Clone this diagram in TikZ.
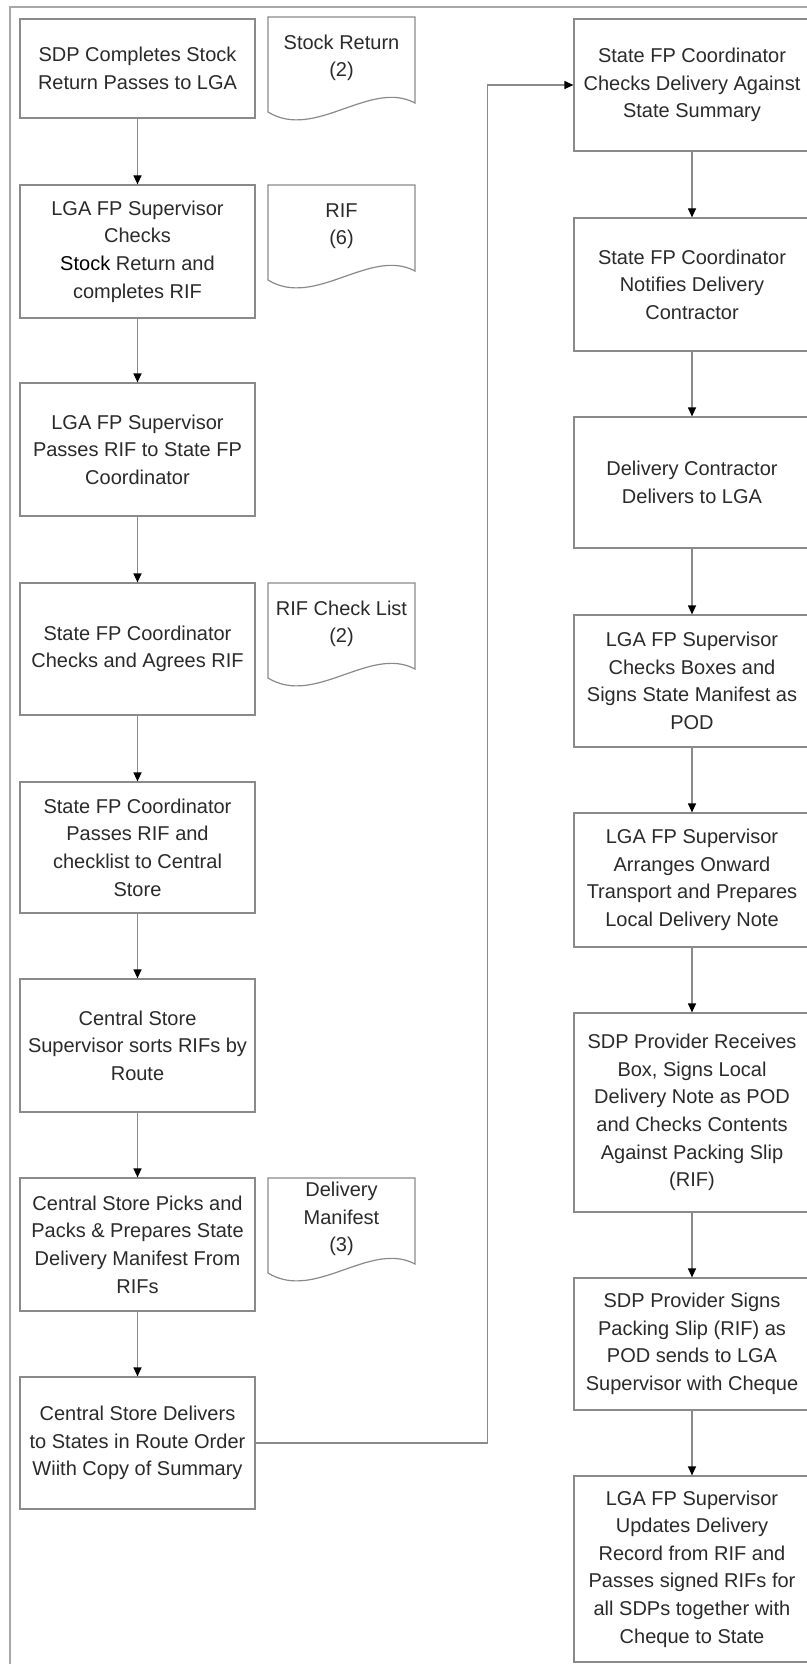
\documentclass[tikz,border=0pt]{standalone}
\usepackage{fontspec}
\setmainfont{Liberation Sans}
\usetikzlibrary{arrows.meta}
\definecolor{linegrey}{HTML}{8A8A8A}
\definecolor{framegrey}{HTML}{A8A8A8}
\definecolor{textgrey}{HTML}{2A2A2A}
\tikzset{%
	process box/.style={
		rectangle,
		draw=linegrey,
		line width=0.6pt,
		text=textgrey,
		align=center,
		inner sep=2pt,
		font=\fontsize{10}{13.8}\selectfont
	},
	doc line/.style={
		draw=linegrey,
		line width=0.6pt
	},
	doc text/.style={
		text=textgrey,
		align=center,
		font=\fontsize{10}{13.8}\selectfont
	},
	flow/.style={
		->,
		draw=linegrey,
		line width=0.6pt
	},
}

\begin{document}
\begin{tikzpicture}[x=0.5pt, y=-0.5pt, >={Triangle[length=4.5pt,width=4pt,color=black]}]
			
			\useasboundingbox (0,0) rectangle (807,1664);
			\draw [framegrey, line width=0.9pt] (10,7) rectangle (840,1700);
			
			\foreach \y/\h/\txt [count=\i] in {
				68.5/49.5/{SDP Completes Stock\\Return Passes to LGA},
				251.5/66.5/{LGA FP Supervisor\\Checks\\{\color{black}Stock} Return and\\completes RIF},
				449.5/66.5/{LGA FP Supervisor\\Passes RIF to State FP\\Coordinator},
				649/66/{State FP Coordinator\\Checks and Agrees RIF},
				847.5/65.5/{State FP Coordinator\\Passes RIF and\\checklist to Central\\Store},
				1045.5/66.5/{Central Store\\Supervisor sorts RIFs by\\Route},
				1244.5/66.5/{Central Store Picks and\\Packs \& Prepares State\\Delivery Manifest From\\RIFs},
				1443/66/{Central Store Delivers\\to States in Route Order\\Wiith Copy of Summary}}
			\node [process box, minimum width=117.5pt, minimum height=\h pt] (left-\i) at (137.5,\y) {\txt};
			
			\foreach \y/\h/\txt [count=\i] in {
				85/66/{State FP Coordinator\\Checks Delivery Against\\State Summary},
				284.5/66.5/{State FP Coordinator\\Notifies Delivery\\Contractor},
				482.5/65.5/{Delivery Contractor\\Delivers to LGA},
				681/66/{LGA FP Supervisor\\Checks Boxes and\\Signs State Manifest as\\POD},
				880/67/{LGA FP Supervisor\\Arranges Onward\\Transport and Prepares\\Local Delivery Note},
				1112.5/99.5/{SDP Provider Receives\\Box, Signs Local\\Delivery Note as POD\\and Checks Contents\\Against Packing Slip\\(RIF)},
				1344/66/{SDP Provider Signs\\Packing Slip (RIF) as\\POD sends to LGA\\Supervisor with Cheque},
				1569/93/{LGA FP Supervisor\\Updates Delivery\\Record from RIF and\\Passes signed RIFs for\\all SDPs together with\\Cheque to State}}
			\node [process box, minimum width=118pt, minimum height=\h pt] (right-\i) at (692,\y) {\txt};
			
			% documents beside the left column
			\foreach \t/\txt [count=\i] in {
				17/{Stock Return\\(2)},
				185/{RIF\\(6)},
				583/{RIF Check List\\(2)},
				1178/{Delivery\\Manifest\\(3)}}
			{
				\draw [doc line] (268,\t) -- (415,\t) -- (415,\t+86)
				.. controls (370,\t+62) and (315,\t+124) .. (268,\t+95) -- cycle;
				\node [doc text] (doc-\i) at (341.5,\t+41) {\txt};
			}
			
			\foreach \i [evaluate=\i as \n using int(\i+1)] in {1,...,7}
			{
				\draw [flow] (left-\i) -- (left-\n);
				\draw [flow] (right-\i) -- (right-\n);
			}
			
			\draw [flow] (left-8.east) -- ++(232,0) |- (right-1.west);
			
		\end{tikzpicture}
\end{document}
